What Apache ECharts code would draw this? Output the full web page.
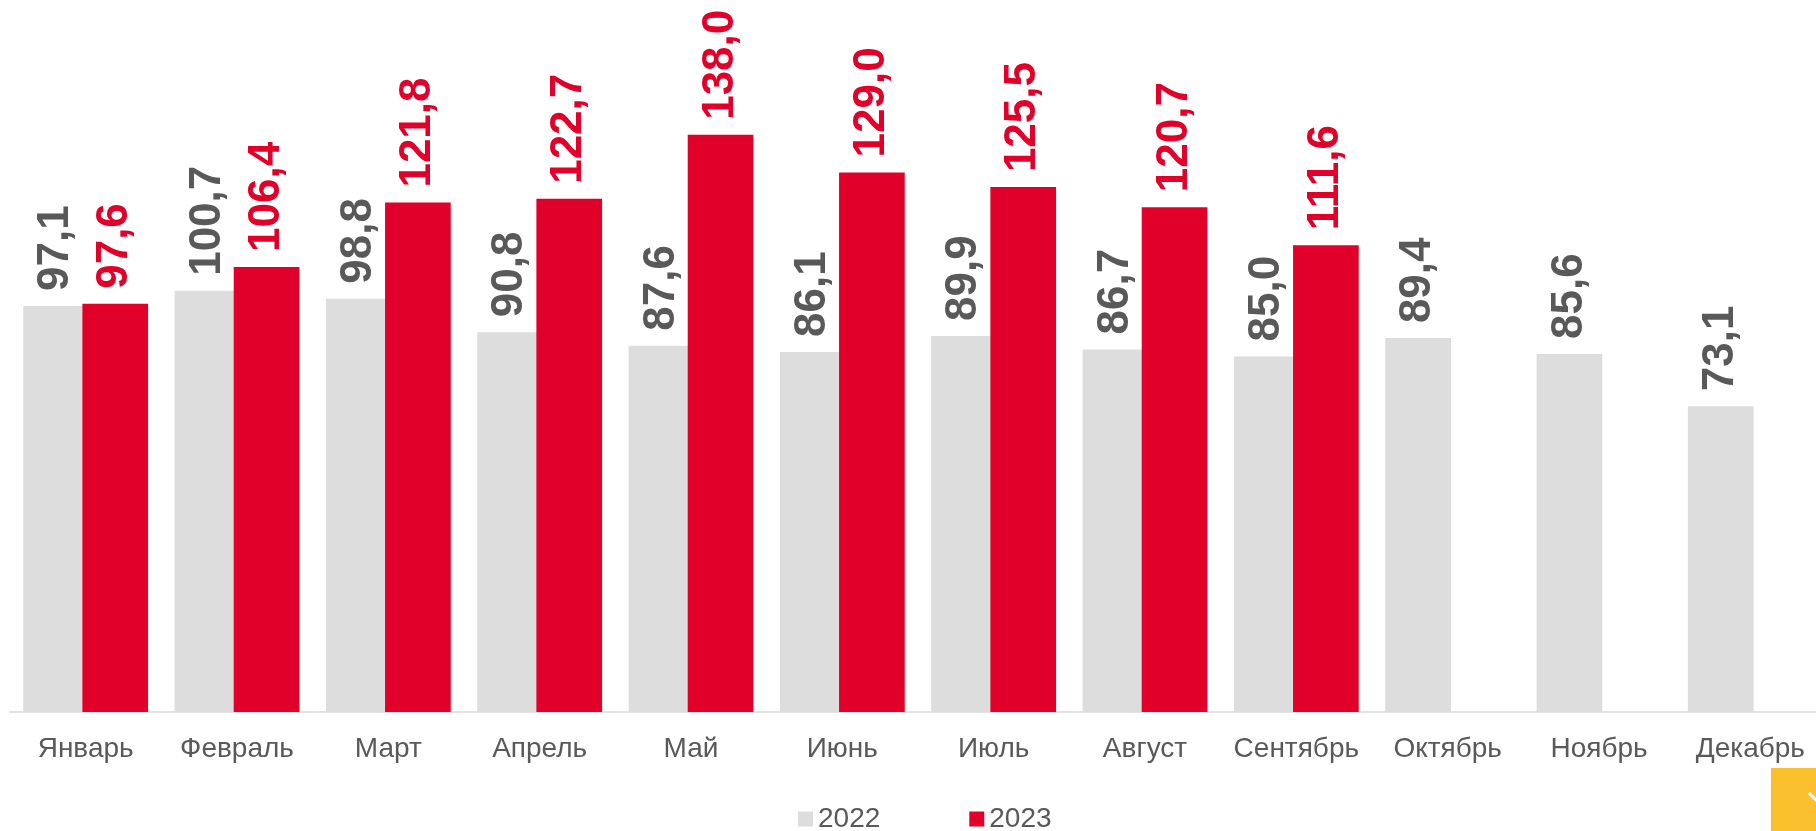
<!DOCTYPE html>
<html>
<head>
<meta charset="utf-8">
<script src="https://cdn.jsdelivr.net/npm/echarts@6/dist/echarts.min.js"></script>
<style>
	html, body { margin: 0; padding: 0; background: #fff; }
	#chart { width: 1816px; height: 831px; }
</style>
</head>
<body>
<div id="chart"></div>
<script>
// months on the x axis
var months = ["Январь", "Февраль", "Март", "Апрель", "Май", "Июнь", "Июль", "Август", "Сентябрь", "Октябрь", "Ноябрь", "Декабрь"];
var seriesNames = ["2022", "2023"];
var values2022 = [97.1, 100.7, 98.8, 90.8, 87.6, 86.1, 89.9, 86.7, 85.0, 89.4, 85.6, 73.1];
var values2023 = [97.6, 106.4, 121.8, 122.7, 138.0, 129.0, 125.5, 120.7, 111.6, null, null, null];

var GRAY = "#dddddd";
var RED = "#e1002a";
var TEXT = "#595959";

// 97.1 -> "97,1"
var fmt = function(p){
	if(p.value == null) return "";
	return p.value.toFixed(1).replace(".", ",");
}

var barLabel = function(color){
	return {
		show: true,
		position: "top",
		rotate: 90,
		align: "left",
		verticalAlign: "middle",
		distance: 15,
		color: color,
		fontFamily: "Liberation Sans, Arial, sans-serif",
		fontWeight: "bold",
		fontSize: 44,
		formatter: fmt
	}
}

var chart = echarts.init(document.getElementById("chart"));
chart.setOption({
	animation: false,
	backgroundColor: "#fff",
	grid: { left: 10, width: 1816, top: 1, bottom: 119, containLabel: false, outerBoundsMode: "none" },
	legend: {
		left: 798,
		top: 805,
		padding: 0,
		itemWidth: 15,
		itemHeight: 15,
		itemGap: 89,
		icon: "rect",
		textStyle: { color: TEXT, fontSize: 28, fontFamily: "Liberation Sans, Arial, sans-serif" },
		data: seriesNames
	},
	xAxis: {
		type: "category",
		data: months,
		axisLine: { lineStyle: { color: "#d9d9d9", width: 1.5 } },
		axisTick: { show: false },
		axisLabel: { color: TEXT, fontSize: 28, margin: 23, fontFamily: "Liberation Sans, Arial, sans-serif", interval: 0 }
	},
	yAxis: {
		type: "value",
		min: 0,
		max: 170,
		show: false,
		splitLine: { show: false }
	},
	series: [
		{
			name: seriesNames[0],
			type: "bar",
			data: values2022,
			barWidth: 65.7,
			barGap: "-10%",
			itemStyle: { color: GRAY },
			label: barLabel(TEXT)
		},
		{
			name: seriesNames[1],
			type: "bar",
			data: values2023,
			barWidth: 65.7,
			barGap: "-10%",
			itemStyle: { color: RED },
			label: barLabel(RED)
		}
	],
	graphic: [
		{ type: "rect", shape: { x: 1771, y: 768, width: 60, height: 70 }, style: { fill: "#fbc02d" } },
		{ type: "polyline", shape: { points: [[1809, 793], [1817, 801], [1825, 793]] }, style: { stroke: "#fff", lineWidth: 3, fill: null } }
	]
});
</script>
</body>
</html>
